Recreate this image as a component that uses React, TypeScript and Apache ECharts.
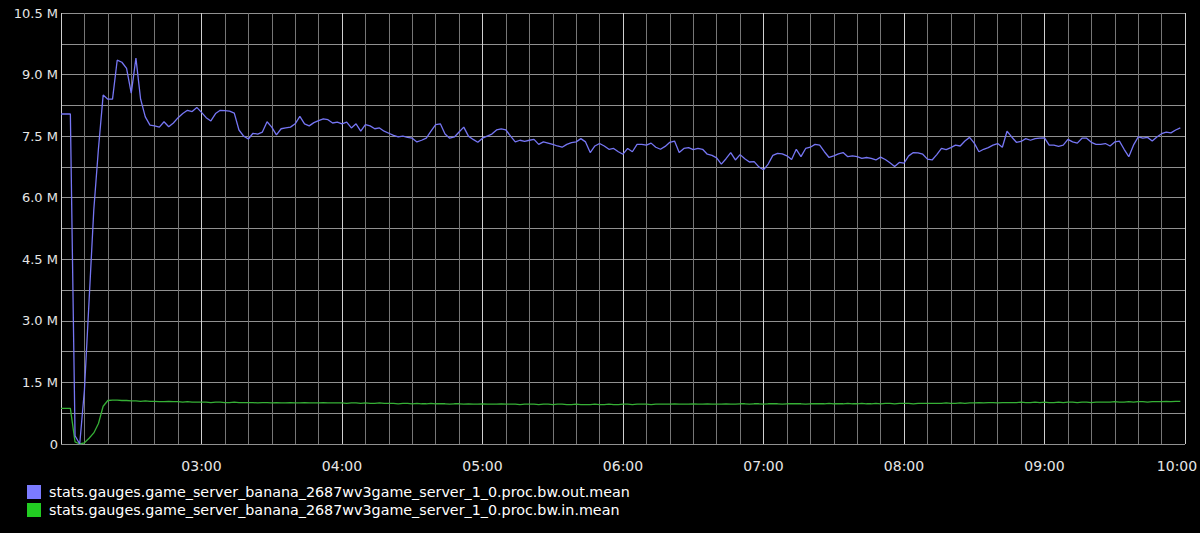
import React, { useEffect, useRef } from "react";
import * as echarts from "echarts";

// Time axis: minutes after midnight, one sample every 2 minutes
const TIME_START = 120;
const TIME_STEP = 2;
const AXIS_MIN = 120;
const AXIS_MAX = 600;

const HOUR_LABELS = ["03:00", "04:00", "05:00", "06:00", "07:00", "08:00", "09:00", "10:00"];

const OUT_NAME = "stats.gauges.game_server_banana_2687wv3game_server_1_0.proc.bw.out.mean";
const IN_NAME = "stats.gauges.game_server_banana_2687wv3game_server_1_0.proc.bw.in.mean";

// values in millions
const bwOut = [
  8.04, 8.04, 8.04, 0.2, 0, 1.31, 3.5, 5.7, 7.2, 8.5,
  8.4, 8.4, 9.35, 9.3, 9.15, 8.55, 9.4, 8.4, 7.97, 7.77,
  7.75, 7.72, 7.85, 7.73, 7.82, 7.95, 8.05, 8.13, 8.1, 8.2,
  8.08, 7.95, 7.87, 8.05, 8.13, 8.12, 8.11, 8.06, 7.65, 7.5,
  7.43, 7.57, 7.55, 7.6, 7.85, 7.72, 7.53, 7.68, 7.7, 7.72,
  7.8, 7.98, 7.8, 7.75, 7.83, 7.88, 7.92, 7.9, 7.82, 7.84,
  7.8, 7.84, 7.7, 7.8, 7.62, 7.78, 7.75, 7.68, 7.7, 7.62,
  7.57, 7.52, 7.48, 7.5, 7.47, 7.45, 7.36, 7.4, 7.45, 7.62,
  7.78, 7.8, 7.55, 7.45, 7.48, 7.6, 7.72, 7.5, 7.42, 7.35,
  7.45, 7.5, 7.55, 7.65, 7.68, 7.65, 7.5, 7.36, 7.4, 7.37,
  7.4, 7.42, 7.3, 7.36, 7.33, 7.3, 7.26, 7.23, 7.3, 7.34,
  7.36, 7.44, 7.36, 7.1, 7.26, 7.32, 7.26, 7.18, 7.2, 7.12,
  7.06, 7.2, 7.12, 7.3, 7.3, 7.28, 7.33, 7.23, 7.18, 7.25,
  7.35, 7.38, 7.1, 7.2, 7.22, 7.17, 7.2, 7.18, 7.06, 7.03,
  6.97, 6.82, 6.95, 7.1, 6.92, 7.05, 6.95, 6.87, 6.88, 6.75,
  6.68, 6.82, 7.03, 7.08, 7.07, 7.02, 6.93, 7.18, 7.0, 7.2,
  7.23, 7.3, 7.28, 7.12, 6.98, 7.02, 7.07, 7.1, 7.0, 7.02,
  7.0, 6.96, 6.98, 6.96, 6.92, 6.99, 6.93, 6.85, 6.76, 6.86,
  6.84, 7.02, 7.1, 7.09, 7.06, 6.94, 6.92, 7.05, 7.2, 7.17,
  7.22, 7.28, 7.26, 7.38, 7.47, 7.33, 7.12, 7.18, 7.22, 7.28,
  7.32, 7.23, 7.62, 7.48, 7.35, 7.37, 7.44, 7.4, 7.44, 7.45,
  7.46, 7.28, 7.28, 7.25, 7.28, 7.42, 7.36, 7.33, 7.45, 7.45,
  7.35, 7.3, 7.3, 7.32, 7.26, 7.36, 7.38, 7.18, 7.0, 7.28,
  7.48, 7.45, 7.47, 7.38, 7.48, 7.56, 7.6, 7.58, 7.65, 7.7,
];

const bwIn = [
  0.87, 0.87, 0.87, 0.05, 0, 0.03, 0.14, 0.27, 0.5, 0.92,
  1.06, 1.07, 1.07, 1.06, 1.06, 1.05, 1.05, 1.04, 1.05, 1.04,
  1.04, 1.03, 1.03, 1.04, 1.03, 1.03, 1.02, 1.03, 1.02, 1.02,
  1.02, 1.02, 1.01, 1.02, 1.02, 1.01, 1.01, 1.02, 1.01, 1.01,
  1.01, 1.01, 1.0, 1.01, 1.01, 1.0, 1.01, 1.0, 1.0, 1.01,
  1.0, 1.0, 1.01, 1.0, 1.0, 1.0, 1.01, 1.0, 1.0, 1.0,
  1.0, 0.99, 1.0, 1.0, 0.99, 1.0, 0.99, 0.99, 1.0, 0.99,
  0.99, 0.99, 0.98, 0.99, 0.99, 0.98, 0.99, 0.98, 0.98, 0.99,
  0.98, 0.98, 0.98, 0.97, 0.98, 0.98, 0.97, 0.98, 0.97, 0.97,
  0.98, 0.97, 0.97, 0.97, 0.98, 0.97, 0.97, 0.97, 0.96, 0.97,
  0.97, 0.97, 0.96, 0.97, 0.97, 0.96, 0.97, 0.97, 0.96, 0.96,
  0.97, 0.96, 0.96, 0.96, 0.97, 0.96, 0.96, 0.97, 0.96, 0.96,
  0.97, 0.97, 0.96, 0.97, 0.97, 0.97, 0.96, 0.97, 0.97, 0.97,
  0.97, 0.98, 0.97, 0.97, 0.97, 0.98, 0.97, 0.97, 0.98, 0.97,
  0.97, 0.97, 0.98, 0.97, 0.97, 0.98, 0.98, 0.97, 0.98, 0.98,
  0.97, 0.98, 0.98, 0.98, 0.97, 0.98, 0.98, 0.98, 0.98, 0.97,
  0.98, 0.98, 0.98, 0.98, 0.99, 0.98, 0.98, 0.98, 0.99, 0.98,
  0.98, 0.99, 0.98, 0.98, 0.99, 0.98, 0.99, 0.99, 0.98, 0.99,
  0.99, 0.99, 0.98, 0.99, 0.99, 0.99, 0.99, 0.99, 0.99, 1.0,
  0.99, 0.99, 1.0, 0.99, 1.0, 1.0, 1.01, 1.0, 1.01, 1.01,
  1.0, 1.01, 1.01, 1.01, 1.01, 1.02, 1.01, 1.01, 1.02, 1.01,
  1.02, 1.01, 1.01, 1.02, 1.01, 1.02, 1.02, 1.01, 1.02, 1.02,
  1.01, 1.02, 1.02, 1.02, 1.02, 1.03, 1.02, 1.02, 1.03, 1.02,
  1.03, 1.03, 1.02, 1.03, 1.03, 1.03, 1.04, 1.03, 1.04, 1.04,
];

const FONT = "DejaVu Sans";

function hourLabel(v: number): string {
  if (v % 60 !== 0 || v <= AXIS_MIN) return "";
  const idx = (v - 180) / 60;
  const text = HOUR_LABELS[idx] ?? "";
  if (v === AXIS_MAX) return "{last|" + text + "}";
  return text;
}

export default function App() {
  const ref = useRef<HTMLDivElement>(null);

  useEffect(() => {
    document.body.style.margin = "0";
    document.body.style.background = "#000";
    if (!ref.current) return;
    const chart = echarts.init(ref.current, undefined, { renderer: "svg" });
    const outData = bwOut.map((v, i) => [TIME_START + i * TIME_STEP, v]);
    const inData = bwIn.map((v, i) => [TIME_START + i * TIME_STEP, v]);
    const minorColors = ["#d0d0d0", "#767676", "#767676", "#767676", "#767676", "#767676"];

    chart.setOption({
      animation: false,
      backgroundColor: "#000000",
      textStyle: { fontFamily: FONT },
      grid: { left: 61, right: 15, top: 13, bottom: 89, containLabel: false, outerBoundsMode: "none" },
      legend: {
        orient: "vertical",
        left: 27,
        top: 485,
        padding: 0,
        itemWidth: 14,
        itemHeight: 14,
        itemGap: 4,
        icon: "rect",
        textStyle: { color: "#ffffff", fontSize: 14.3, lineHeight: 14, fontFamily: FONT, padding: [0, 0, 0, 3] },
        data: [
          { name: OUT_NAME, itemStyle: { color: "#7b7bff" } },
          { name: IN_NAME, itemStyle: { color: "#22cc22" } },
        ],
      },
      xAxis: {
        type: "value",
        min: AXIS_MIN,
        max: AXIS_MAX,
        interval: 10,
        axisLine: { show: false },
        axisTick: { show: false },
        axisLabel: {
          color: "#e6e6e6",
          fontSize: 14,
          fontFamily: FONT,
          margin: 15,
          showMinLabel: false,
          showMaxLabel: true,
          hideOverlap: false,
          formatter: (v: number) => hourLabel(v),
          rich: {
            last: { color: "#e6e6e6", fontSize: 14, fontFamily: FONT, padding: [0, 16, 0, 0] },
          },
        },
        splitLine: { show: true, lineStyle: { color: minorColors, width: 1 } },
      },
      yAxis: {
        type: "value",
        min: 0,
        max: 10.5,
        interval: 0.75,
        axisLine: { show: false },
        axisTick: { show: false },
        axisLabel: {
          color: "#e6e6e6",
          fontSize: 13,
          fontFamily: FONT,
          margin: 3,
          formatter: (v: number) => {
            const k = Math.round(v / 0.75);
            if (k % 2 !== 0) return "";
            if (k === 0) return "0";
            return (k * 0.75).toFixed(1) + " M";
          },
        },
        splitLine: { show: true, lineStyle: { color: "#909090", width: 1 } },
      },
      series: [
        {
          name: OUT_NAME,
          type: "line",
          data: outData,
          showSymbol: false,
          symbol: "none",
          color: "#7b7bff",
          lineStyle: { color: "#7676f4", width: 1.3 },
          z: 3,
        },
        {
          name: IN_NAME,
          type: "line",
          data: inData,
          showSymbol: false,
          symbol: "none",
          color: "#22cc22",
          lineStyle: { color: "#36b036", width: 1.3 },
          z: 2,
        },
      ],
    });
    return () => chart.dispose();
  }, []);

  return (
    <div
      ref={ref}
      style={{ position: "fixed", left: 0, top: 0, width: 1200, height: 533, background: "#000" }}
    />
  );
}
